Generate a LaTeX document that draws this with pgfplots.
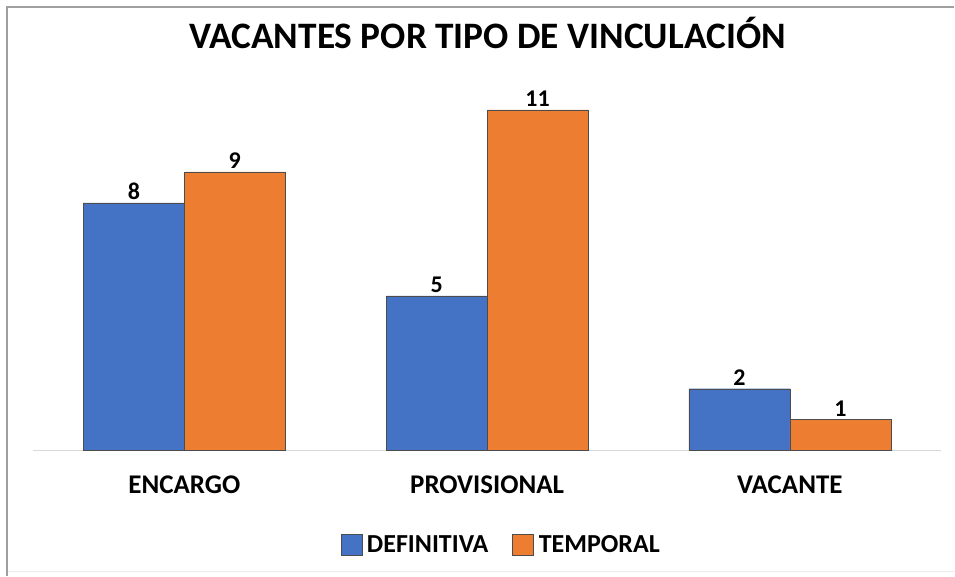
\documentclass[border=0pt]{standalone}
\usepackage{pgfplots}
\pgfplotsset{compat=1.18}
\usepackage{fontspec}
\setmainfont{Carlito}
\definecolor{cblue}{HTML}{4472C4}
\definecolor{corange}{HTML}{ED7D31}
\begin{document}
\begin{tikzpicture}[x=1pt,y=1pt]
\path (-33,-125) rectangle (922,451);
\draw[gray!15, line width=1pt] (-26,-121) -- (922,-121);
\draw[gray!75, line width=1.5pt] (-26,-125) -- (-26,444) -- (922,444);
\node[font=\fontsize{42}{44}\selectfont\bfseries] at (455,418) {\resizebox{597pt}{!}{VACANTES POR TIPO DE VINCULACIÓN}};
\begin{axis}[
  scale only axis, width=909pt, height=372pt,
  xmin=-0.5, xmax=2.5, ymin=0, ymax=12,
  ybar, bar width=101pt,
  axis x line*=bottom, axis y line=none,
  x axis line style={draw=gray!30, line width=1.5pt, -},
  xtick={0,1,2}, xticklabels={ENCARGO,PROVISIONAL,VACANTE},
  xtick style={draw=none},
  xticklabel style={font=\fontsize{27}{29}\selectfont\bfseries, anchor=base, yshift=-39pt},
  ytick=\empty,
  /pgf/number format/assume math mode=true,
  nodes near coords,
  every node near coord/.append style={font=\fontsize{24}{26}\selectfont\bfseries, text=black, yshift=0pt},
  legend columns=2,
  legend style={draw=none, at={(0.5155,-0.254)}, anchor=center, font=\fontsize{26}{28}\selectfont\bfseries, /tikz/every even column/.append style={column sep=22pt}},
  legend image code/.code={\draw[#1, draw=black!70] (0pt,-10pt) rectangle (21pt,11pt); \path (24pt,0pt);},
]
\addplot[fill=cblue, draw=black!70, bar shift=-50.5pt] coordinates {(0,8) (1,5) (2,2)};
\addplot[fill=corange, draw=black!70, bar shift=50.5pt] coordinates {(0,9) (1,11) (2,1)};
\legend{DEFINITIVA,TEMPORAL}
\end{axis}
\end{tikzpicture}
\end{document}
